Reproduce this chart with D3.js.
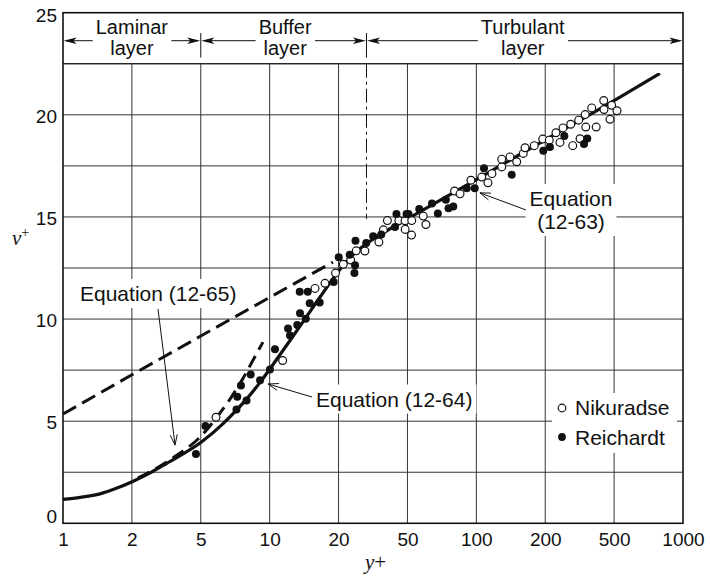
<!DOCTYPE html>
<html><head><meta charset="utf-8">
<script src="https://cdn.jsdelivr.net/npm/d3@7"></script>
<style>
html,body{margin:0;padding:0;background:#fff;}
svg{display:block;}
text{font-family:"Liberation Sans",Arial,Helvetica,sans-serif;fill:#111;}
</style></head><body>
<svg id="chart" width="710" height="579"></svg>
<script>
// ---------- data ----------
const xTicks = [1, 2, 5, 10, 20, 50, 100, 200, 500, 1000];
const xTickLabels = ["1", "2", "5", "10", "20", "50", "100", "200", "500", "1000"];
const yTicks = [0, 5, 10, 15, 20, 25];
const yGridValues = [2.5, 5, 7.5, 10, 12.5, 15, 17.5, 20, 22.5];

const zoneNames = [["Laminar", "layer"], ["Buffer", "layer"], ["Turbulant", "layer"]];
const zoneBounds = [[1, 5], [5, 29], [29, 1000]];

// solid curve: Eq (12-64) joined to Eq (12-63)
const solidCurve = [[1, 1.17], [1.19, 1.27], [1.45, 1.44], [1.7, 1.7], [2.02, 2.05], [2.55, 2.47],
  [3.18, 2.94], [5.05, 3.99], [6.26, 4.88],
  [7.16, 5.54], [7.94, 6.09], [9.08, 6.9], [10.2, 7.68], [12.27, 8.95], [14.03, 9.89], [16.6, 11.08],
  [19.63, 12.22], [22.3, 12.83], [25.5, 13.32], [30.4, 13.81], [37.9, 14.32], [50, 14.9],
  [100, 16.83], [200, 18.77], [500, 20.7], [793, 22.03]];
// long dashed line (buffer-layer equation)
const dashedBuffer = [[1, 5.35], [2, 7.27], [5, 9.17], [10, 11.06], [18.9, 12.79]];
// short dashed curve (laminar)
const dashedLaminar = [[2.17, 2.22], [2.79, 2.71], [3.65, 3.34], [4.95, 4.22], [5.88, 5.2],
  [6.71, 6.08], [7.57, 7.01], [8.8, 8.34], [9.35, 8.87]];

const nikuradse = [[5.83, 5.19], [11.4, 7.97], [15.78, 11.5], [17.45, 11.75], [19.4, 12.25], [21.3, 12.68],
  [23.5, 12.89], [25.3, 13.34], [28.4, 13.33], [34.2, 13.77], [36.3, 14.37], [38.3, 14.82], [44.6, 14.82],
  [48.4, 14.81], [48.5, 14.39], [52.2, 14.82], [52.1, 14.11], [58.6, 15.04], [60.2, 14.63], [80.3, 16.27],
  [84.9, 16.13], [94.7, 16.8], [105.6, 16.95], [112.4, 16.67], [117, 17.12], [129.1, 17.45], [129.1, 17.83],
  [140.3, 17.94], [150.1, 17.7], [160.4, 18.11], [163.2, 18.39], [179.1, 18.49], [195, 18.81], [211.1, 18.76],
  [230.7, 19.12], [243.3, 18.65], [253.3, 19.36], [280.7, 19.54], [288.3, 18.49], [317.7, 18.83],
  [312.2, 19.74], [340.3, 20.01], [343.1, 19.4], [394, 19.4], [371.2, 20.34], [435.5, 20.7], [437, 20.26],
  [484.2, 20.47], [514.8, 20.2], [473.3, 19.78]];

const reichardt = [[4.69, 3.39], [5.24, 4.76], [7.16, 5.57], [7.92, 6.01], [7.22, 6.2], [7.49, 6.75],
  [8.26, 7.28], [9.08, 7.01], [10.03, 7.53], [10.55, 8.52], [12.03, 9.54], [12.27, 9.19], [13.2, 9.71],
  [14.38, 10.01], [13.57, 10.29], [14.96, 10.77], [16.54, 10.81], [13.53, 11.34], [14.67, 11.34],
  [19.04, 11.81], [20.05, 13.03], [23.2, 13.15], [24.7, 12.26], [24.9, 12.64], [25.05, 13.84], [28.9, 13.72],
  [31.7, 14.06], [35.3, 14.14], [42.4, 14.51], [43.2, 15.14], [49.4, 15.15], [50.5, 15.15], [56.3, 15.39],
  [64, 15.66], [67.9, 15.17], [73.6, 15.84], [75.6, 15.42], [79.3, 15.51], [90.8, 16.41], [98.4, 16.41],
  [108, 17.38], [142.7, 17.07], [196.2, 18.24], [212.9, 18.43], [257.8, 18.96], [350, 18.84], [335, 18.57]];

// ---------- layout ----------
const L = 63, R = 683, T = 12.7, B = 523.3;
const svg = d3.select("#chart");
const step = (R - L) / (xTicks.length - 1);
// equally spaced 1-2-5 grid: polylinear scale on log10 values
const xs = d3.scaleLinear().domain(xTicks.map(Math.log10)).range(xTicks.map((d, i) => L + i * step));
const x = v => xs(Math.log10(v));
const y = d3.scaleLinear().domain([0, 25]).range([B, T]);

const gridColor = "#333";
const g = svg.append("g");

// vertical grid lines (below header)
g.selectAll("line.vg").data(xTicks.slice(1, -1)).join("line")
  .attr("x1", d => x(d)).attr("x2", d => x(d))
  .attr("y1", y(0)).attr("y2", y(22.5))
  .attr("stroke", gridColor).attr("stroke-width", 1);
// horizontal grid lines
g.selectAll("line.hg").data(yGridValues).join("line")
  .attr("x1", L).attr("x2", R)
  .attr("y1", d => y(d)).attr("y2", d => y(d))
  .attr("stroke", gridColor).attr("stroke-width", 1);

// header separators
[5, 29].forEach(v => {
  g.append("line").attr("x1", x(v)).attr("x2", x(v)).attr("y1", y(24.0)).attr("y2", y(22.8))
    .attr("stroke", "#111").attr("stroke-width", 1);
});
g.append("line").attr("x1", x(29)).attr("x2", x(29)).attr("y1", y(22.5)).attr("y2", y(14.9))
  .attr("stroke", "#111").attr("stroke-width", 1).attr("stroke-dasharray", "14,4,3,4");

// header arrows + labels
const hdr = svg.append("g");
const arrowY = 40.7;
function filledArrow(x1, x2) { // arrow from x1 pointing to x2
  const dir = Math.sign(x2 - x1);
  hdr.append("line").attr("x1", x1).attr("x2", x2 - dir * 8).attr("y1", arrowY).attr("y2", arrowY)
    .attr("stroke", "#111").attr("stroke-width", 1);
  hdr.append("path").attr("d", `M${x2},${arrowY} L${x2 - dir * 13},${arrowY - 3.2} L${x2 - dir * 10},${arrowY} L${x2 - dir * 13},${arrowY + 3.2} Z`)
    .attr("fill", "#111");
}
zoneNames.forEach((names, i) => {
  const x0 = x(zoneBounds[i][0]), x1 = x(zoneBounds[i][1]);
  const cx = (x0 + x1) / 2 - (i === 1 ? -1.5 : i === 2 ? 2 : 0);
  const t1 = hdr.append("text").attr("text-anchor", "middle").attr("font-size", 20)
    .attr("x", cx).attr("y", 34).text(names[0]);
  hdr.append("text").attr("text-anchor", "middle").attr("font-size", 20)
    .attr("x", cx).attr("y", 55).text(names[1]);
  const bb = t1.node().getBBox();
  filledArrow(bb.x - 3, x0 + 0.5);
  filledArrow(bb.x + bb.width + 3, x1 - 0.5);
});

// label backgrounds + legend background
const ann = svg.append("g");
function labelText(lines, xPos, yBase, anchor) {
  const t = ann.append("text").attr("font-size", 21).attr("text-anchor", anchor);
  lines.forEach((s, i) => t.append("tspan").attr("x", xPos).attr("y", yBase + i * 23).text(s));
  const bb = t.node().getBBox();
  ann.insert("rect", "text").attr("x", bb.x - 4).attr("y", bb.y - 3).attr("width", bb.width + 8).attr("height", bb.height + 6)
    .attr("fill", "#fff");
  return t;
}
function thinArrow(x1, y1, x2, y2) {
  ann.append("line").attr("x1", x1).attr("y1", y1).attr("x2", x2).attr("y2", y2)
    .attr("stroke", "#111").attr("stroke-width", 1);
  const a = Math.atan2(y2 - y1, x2 - x1), len = 11, sp = 0.33;
  const p1 = [x2 - len * Math.cos(a - sp), y2 - len * Math.sin(a - sp)];
  const p2 = [x2 - len * Math.cos(a + sp), y2 - len * Math.sin(a + sp)];
  ann.append("path").attr("d", `M${p1[0]},${p1[1]} L${x2},${y2} L${p2[0]},${p2[1]}`)
    .attr("fill", "none").attr("stroke", "#111").attr("stroke-width", 1);
}
labelText(["Equation (12-65)"], 80, 301, "start");
labelText(["Equation (12-64)"], 316, 406.5, "start");
labelText(["Equation", "(12-63)"], 571, 206, "middle");

// legend background
ann.append("rect").attr("x", 552).attr("y", 393).attr("width", 125).attr("height", 60).attr("fill", "#fff");

// frame
svg.append("rect").attr("x", L).attr("y", T).attr("width", R - L).attr("height", B - T)
  .attr("fill", "none").attr("stroke", "#111").attr("stroke-width", 1.6);
svg.append("line").attr("x1", L).attr("x2", R).attr("y1", y(22.5)).attr("y2", y(22.5))
  .attr("stroke", "#111").attr("stroke-width", 1.2);

// curves
const lineMono = d3.line().x(d => x(d[0])).y(d => y(d[1])).curve(d3.curveMonotoneX);
const lineLin = d3.line().x(d => x(d[0])).y(d => y(d[1]));
svg.append("path").attr("d", lineLin(dashedBuffer)).attr("fill", "none").attr("stroke", "#111")
  .attr("stroke-width", 3).attr("stroke-dasharray", "15,7");
svg.append("path").attr("d", lineMono(dashedLaminar)).attr("fill", "none").attr("stroke", "#111")
  .attr("stroke-width", 3).attr("stroke-dasharray", "13,7");
svg.append("path").attr("d", lineMono(solidCurve)).attr("fill", "none").attr("stroke", "#111")
  .attr("stroke-width", 3.2).attr("stroke-linecap", "butt");

// annotation arrows (tips on curves)
thinArrow(158, 309, x(3.55), y(3.83));
thinArrow(312, 397, x(9.84), y(6.82));
thinArrow(526, 210, x(103.7), y(16.18));

// points
const pts = svg.append("g");
pts.selectAll("circle.n").data(nikuradse).join("circle")
  .attr("cx", d => x(d[0])).attr("cy", d => y(d[1])).attr("r", 3.9)
  .attr("fill", "#fff").attr("stroke", "#111").attr("stroke-width", 1.2);
pts.selectAll("circle.r").data(reichardt).join("circle")
  .attr("cx", d => x(d[0])).attr("cy", d => y(d[1])).attr("r", 4)
  .attr("fill", "#111");

// legend
const lg = svg.append("g");
lg.append("circle").attr("cx", 562).attr("cy", 408).attr("r", 3.8).attr("fill", "#fff").attr("stroke", "#111").attr("stroke-width", 1.2);
lg.append("circle").attr("cx", 562).attr("cy", 437).attr("r", 3.9).attr("fill", "#111");
lg.append("text").attr("x", 575).attr("y", 415).attr("font-size", 21).text("Nikuradse");
lg.append("text").attr("x", 575).attr("y", 445).attr("font-size", 21).text("Reichardt");

// axes
const xAxis = d3.axisBottom(xs).tickValues(xTicks.map(Math.log10))
  .tickFormat((d, i) => xTickLabels[i]).tickSize(0).tickPadding(9);
const xg = svg.append("g").attr("transform", `translate(0,${B})`).call(xAxis);
xg.select(".domain").remove();
xg.selectAll("text").attr("font-size", 19).attr("fill", "#111")
  .style("font-family", '"Liberation Sans",Arial,Helvetica,sans-serif');

const yAxis = d3.axisLeft(y).tickValues(yTicks).tickSize(0).tickPadding(6);
const yg = svg.append("g").attr("transform", `translate(${L},0)`).call(yAxis);
yg.select(".domain").remove();
yg.selectAll("text").attr("font-size", 19).attr("fill", "#111")
  .style("font-family", '"Liberation Sans",Arial,Helvetica,sans-serif')
  .attr("dy", d => d === 0 ? "-0.05em" : d === 25 ? "0.47em" : "0.38em");

// axis titles
const vt = svg.append("text").attr("x", 12).attr("y", 245)
  .style("font-family", '"Liberation Serif","Times New Roman",serif').attr("font-size", 21);
vt.append("tspan").attr("font-style", "italic").text("v");
vt.append("tspan").attr("font-size", 14).attr("dy", -8).text("+");
const yt = svg.append("text").attr("x", 365).attr("y", 569)
  .style("font-family", '"Liberation Serif","Times New Roman",serif').attr("font-size", 21);
yt.append("tspan").attr("font-style", "italic").text("y");
yt.append("tspan").text("+");
</script>
</body></html>
